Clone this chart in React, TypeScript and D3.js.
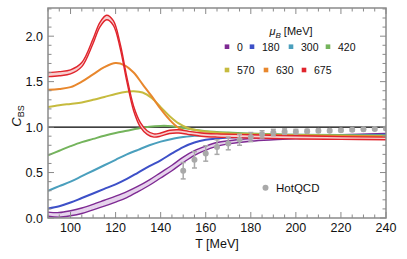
import React from "react";
import * as d3 from "d3";

// ---------- data ----------
const redT = [90, 95, 100, 105, 110, 113, 116, 119, 122, 125, 128, 131, 134, 137, 140, 144, 148, 152, 158, 165, 180, 200, 220, 240];
const redHi = [1.6, 1.61, 1.63, 1.71, 1.97, 2.15, 2.23, 2.17, 1.92, 1.55, 1.23, 1.05, 0.96, 0.925, 0.935, 0.965, 0.97, 0.955, 0.935, 0.925, 0.915, 0.905, 0.895, 0.89];
const redLo = [1.555, 1.565, 1.585, 1.665, 1.92, 2.1, 2.18, 2.12, 1.87, 1.5, 1.18, 1.0, 0.92, 0.89, 0.9, 0.93, 0.935, 0.92, 0.9, 0.89, 0.88, 0.87, 0.865, 0.86];

const orangeT = [90, 95, 100, 105, 110, 115, 120, 124, 128, 132, 136, 140, 144, 148, 152, 156, 162, 170, 180, 200, 220, 240];
const orangeV = [1.41, 1.42, 1.44, 1.5, 1.58, 1.66, 1.705, 1.68, 1.6, 1.47, 1.34, 1.2, 1.08, 0.99, 0.95, 0.935, 0.925, 0.92, 0.915, 0.905, 0.9, 0.895];

const yellowT = [90, 95, 100, 105, 110, 115, 120, 125, 128, 132, 136, 140, 144, 148, 152, 156, 162, 170, 180, 200, 220, 240];
const yellowV = [1.22, 1.24, 1.255, 1.27, 1.3, 1.33, 1.365, 1.39, 1.395, 1.38, 1.32, 1.22, 1.12, 1.04, 0.99, 0.965, 0.945, 0.93, 0.92, 0.91, 0.905, 0.9];

const greenT = [90, 95, 100, 105, 110, 115, 120, 125, 130, 135, 140, 145, 150, 155, 160, 170, 180, 200, 220, 240];
const greenV = [0.69, 0.74, 0.79, 0.835, 0.87, 0.905, 0.935, 0.96, 0.985, 1.005, 1.013, 1.01, 0.99, 0.97, 0.955, 0.94, 0.93, 0.915, 0.91, 0.905];

const tealT = [90, 95, 100, 105, 110, 115, 120, 125, 130, 135, 140, 145, 150, 155, 160, 170, 180, 200, 220, 240];
const tealV = [0.3, 0.35, 0.4, 0.46, 0.52, 0.58, 0.64, 0.7, 0.75, 0.8, 0.84, 0.87, 0.89, 0.905, 0.91, 0.92, 0.92, 0.915, 0.912, 0.91];

const blueT = [90, 95, 100, 105, 110, 115, 120, 125, 130, 135, 140, 145, 150, 155, 160, 165, 170, 180, 200, 220, 240];
const blueV = [0.105, 0.13, 0.17, 0.22, 0.27, 0.32, 0.37, 0.43, 0.5, 0.57, 0.635, 0.71, 0.78, 0.83, 0.86, 0.875, 0.885, 0.895, 0.905, 0.91, 0.915];

const purpleT = [90, 95, 100, 105, 110, 115, 120, 125, 130, 135, 140, 145, 150, 155, 160, 165, 170, 180, 190, 200, 220, 240];
const purpleHi = [0.065, 0.06, 0.08, 0.11, 0.15, 0.195, 0.24, 0.29, 0.35, 0.42, 0.5, 0.58, 0.67, 0.74, 0.79, 0.83, 0.85, 0.875, 0.89, 0.9, 0.915, 0.93];
const purpleLo = [0.02, 0.01, 0.025, 0.05, 0.09, 0.13, 0.175, 0.225, 0.29, 0.36, 0.44, 0.52, 0.61, 0.69, 0.745, 0.79, 0.815, 0.845, 0.86, 0.87, 0.885, 0.9];

const hotT = [150, 155, 160, 165, 170, 175, 180, 185, 190, 195, 200, 205, 210, 215, 220, 225, 230, 235, 240];
const hotV = [0.52, 0.64, 0.71, 0.78, 0.82, 0.86, 0.89, 0.92, 0.94, 0.95, 0.95, 0.955, 0.96, 0.96, 0.965, 0.97, 0.975, 0.98, 0.985];
const hotErr = [0.09, 0.09, 0.085, 0.08, 0.07, 0.06, 0.05, 0.04, 0.035, 0.03, 0.025, 0.02, 0.018, 0.016, 0.015, 0.015, 0.015, 0.015, 0.015];

const xTicks = [100, 120, 140, 160, 180, 200, 220, 240];
const yTicks = [0, 0.5, 1.0, 1.5, 2.0];
const legendRow1 = ["0", "180", "300", "420"];
const legendRow2 = ["570", "630", "675"];

const C = {
  purple: "#7e2a93",
  blue: "#3d50c8",
  teal: "#4a9fbd",
  green: "#74b45c",
  yellow: "#c6bb3e",
  orange: "#e8872d",
  red: "#e0242c",
};

export default function App() {
  const W = 407, H = 259;
  const L = 48, R = 386, T = 8, B = 218;
  const x = d3.scaleLinear().domain([90, 240]).range([L, R]);
  const y = d3.scaleLinear().domain([0, 2.31]).range([B, T]);
  const curve = d3.curveCatmullRom.alpha(0.5);

  const line = d3
    .line<[number, number]>()
    .x((d) => x(d[0]))
    .y((d) => y(d[1]))
    .curve(curve);
  const area = d3
    .area<[number, number, number]>()
    .x((d) => x(d[0]))
    .y0((d) => y(d[1]))
    .y1((d) => y(d[2]))
    .curve(curve);

  const zip = (ts: number[], vs: number[]) => ts.map((t, i) => [t, vs[i]] as [number, number]);
  const zip3 = (ts: number[], lo: number[], hi: number[]) =>
    ts.map((t, i) => [t, lo[i], hi[i]] as [number, number, number]);

  const xMinor = d3.range(90, 240.1, 5);
  const yMinor = d3.range(0, 2.31, 0.1);
  const tickColor = "#8a8a8a";
  const font = "'Liberation Sans', Arial, sans-serif";

  const band = (ts: number[], lo: number[], hi: number[], color: string, fill: string) => (
    <g>
      <path d={area(zip3(ts, lo, hi)) || ""} fill={fill} />
      <path d={line(zip(ts, lo)) || ""} fill="none" stroke={color} strokeWidth={1.4} />
      <path d={line(zip(ts, hi)) || ""} fill="none" stroke={color} strokeWidth={1.4} />
    </g>
  );
  const single = (ts: number[], vs: number[], color: string) => (
    <path d={line(zip(ts, vs)) || ""} fill="none" stroke={color} strokeWidth={2} />
  );

  const row1Colors = [C.purple, C.blue, C.teal, C.green];
  const row1X = [227, 252, 291, 328];
  const row2Colors = [C.yellow, C.orange, C.red];
  const row2X = [227, 266, 304];

  return (
    <svg width={W} height={H} style={{ position: "absolute", left: 0, top: 0, background: "#fff" }} fontFamily={font}>
      <defs>
        <clipPath id="plot">
          <rect x={L} y={T} width={R - L} height={B - T} />
        </clipPath>
      </defs>
      <rect x={0} y={0} width={W} height={H} fill="#fff" />

      <g clipPath="url(#plot)">
        <line x1={L} x2={R} y1={y(1)} y2={y(1)} stroke="#000" strokeWidth={1.2} />
        {band(purpleT, purpleLo, purpleHi, C.purple, "#e6d3ec")}
        {single(blueT, blueV, C.blue)}
        {single(tealT, tealV, C.teal)}
        {single(greenT, greenV, C.green)}
        {single(yellowT, yellowV, C.yellow)}
        {single(orangeT, orangeV, C.orange)}
        {band(redT, redLo, redHi, C.red, "#f7cfcf")}
        {hotT.map((t, i) => (
          <g key={t} stroke="#a9a9a9" strokeWidth={1.5}>
            <line x1={x(t)} x2={x(t)} y1={y(hotV[i] - hotErr[i])} y2={y(hotV[i] + hotErr[i])} />
            <line x1={x(t) - 2.5} x2={x(t) + 2.5} y1={y(hotV[i] - hotErr[i])} y2={y(hotV[i] - hotErr[i])} />
            <line x1={x(t) - 2.5} x2={x(t) + 2.5} y1={y(hotV[i] + hotErr[i])} y2={y(hotV[i] + hotErr[i])} />
            <circle cx={x(t)} cy={y(hotV[i])} r={3} fill="#a9a9a9" stroke="none" />
          </g>
        ))}
      </g>

      {/* ticks */}
      <g stroke={tickColor} strokeWidth={1}>
        {xMinor.map((t) => {
          const major = t % 20 === 0;
          const len = major ? 6 : 3.5;
          return (
            <g key={"x" + t}>
              <line x1={x(t)} x2={x(t)} y1={B} y2={B - len} />
              <line x1={x(t)} x2={x(t)} y1={T} y2={T + len} />
            </g>
          );
        })}
        {yMinor.map((v, i) => {
          const major = i % 5 === 0;
          const len = major ? 6 : 3.5;
          return (
            <g key={"y" + i}>
              <line x1={L} x2={L + len} y1={y(v)} y2={y(v)} />
              <line x1={R} x2={R - len} y1={y(v)} y2={y(v)} />
            </g>
          );
        })}
      </g>
      <rect x={L} y={T} width={R - L} height={B - T} fill="none" stroke={tickColor} strokeWidth={1.5} />

      {/* tick labels */}
      {xTicks.map((t) => (
        <text key={"xl" + t} x={x(t)} y={232} fontSize={12.5} textAnchor="middle" fill="#111">
          {t}
        </text>
      ))}
      {yTicks.map((v) => (
        <text key={"yl" + v} x={43} y={y(v) + 4.5} fontSize={12.5} textAnchor="end" fill="#111">
          {v.toFixed(1)}
        </text>
      ))}
      <text x={217} y={248} fontSize={12.5} textAnchor="middle" fill="#111">
        T [MeV]
      </text>
      <text transform={`translate(21,116) rotate(-90)`} fontSize={13} textAnchor="middle" fill="#111">
        <tspan fontStyle="italic">C</tspan>
        <tspan fontSize={9} dy={3}>BS</tspan>
      </text>

      {/* legend */}
      <text x={291} y={35} fontSize={11} textAnchor="middle" fill="#111">
        <tspan fontStyle="italic">μ</tspan>
        <tspan fontStyle="italic" fontSize={8} dy={2.5}>B</tspan>
        <tspan dy={-2.5}> [MeV]</tspan>
      </text>
      {legendRow1.map((s, i) => (
        <g key={"l1" + s}>
          <rect x={row1X[i] - 2.3} y={46.7 - 2.3} width={4.6} height={4.6} fill={row1Colors[i]} />
          <text x={row1X[i] + 10} y={50.5} fontSize={10.5} fill="#111">
            {s}
          </text>
        </g>
      ))}
      {legendRow2.map((s, i) => (
        <g key={"l2" + s}>
          <rect x={row2X[i] - 2.3} y={70 - 2.3} width={4.6} height={4.6} fill={row2Colors[i]} />
          <text x={row2X[i] + 10} y={73.8} fontSize={10.5} fill="#111">
            {s}
          </text>
        </g>
      ))}
      <circle cx={265.5} cy={187.7} r={3} fill="#a9a9a9" />
      <text x={276} y={191.8} fontSize={11.5} fill="#111">
        HotQCD
      </text>
    </svg>
  );
}
